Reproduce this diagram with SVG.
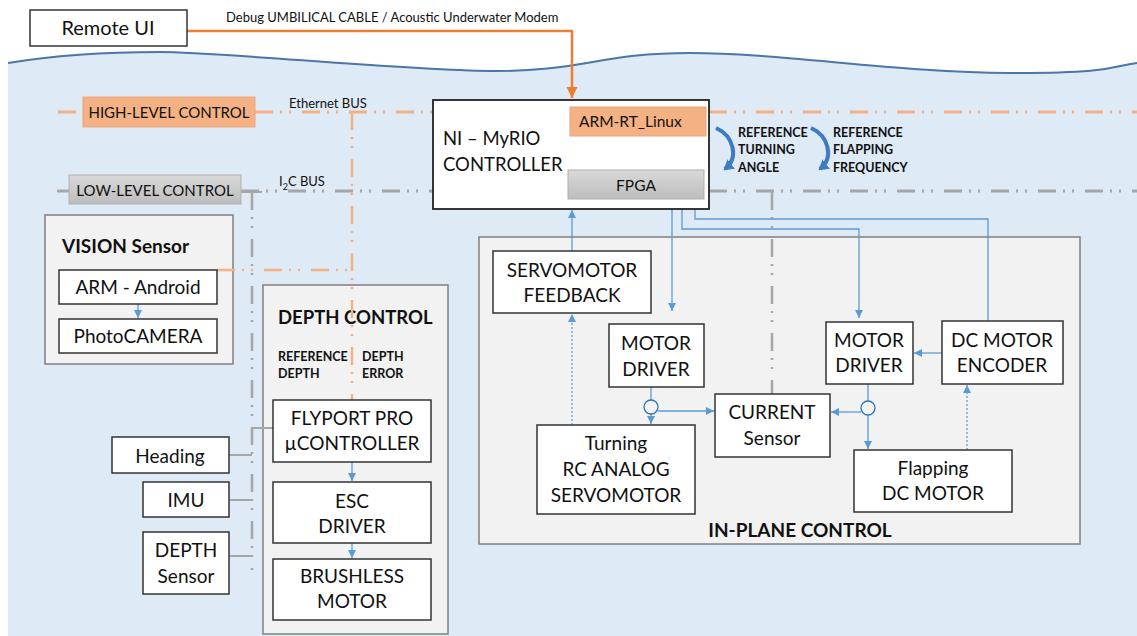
<svg xmlns="http://www.w3.org/2000/svg" width="1137" height="636" viewBox="0 0 1137 636">
<style>
text{font-family:Lato,"Liberation Sans",sans-serif;fill:#111}
.t{font-size:19px;text-anchor:middle}
.b{fill:#fff;stroke:#333;stroke-width:1.5}
.c{fill:#f2f2f2;stroke:#808080;stroke-width:1.5}
.ct{font-size:19px;font-weight:bold}
.sm{font-size:12.5px;font-weight:bold}
.ob{fill:none;stroke:#f4b183;stroke-width:3;stroke-dasharray:18 7 2 7 2 11}
.gb{fill:none;stroke:#a6a6a6;stroke-width:3;stroke-dasharray:18 7 2 7 2 11}
.ov{fill:none;stroke:#f4b183;stroke-width:2.5;stroke-dasharray:18 7 2 7 2 11}
.gv{fill:none;stroke:#a6a6a6;stroke-width:2.5;stroke-dasharray:18 7 2 7 2 11}
.bl{fill:none;stroke:#5b9bd5;stroke-width:1.3}
.bd{fill:none;stroke:#5b9bd5;stroke-width:1.3;stroke-dasharray:2 2}
.gs{fill:none;stroke:#a6a6a6;stroke-width:2}
.cu{fill:none;stroke:#3d7cc0;stroke-width:4}
</style>
<defs>
<marker id="ab" markerUnits="userSpaceOnUse" markerWidth="9" markerHeight="9" refX="8" refY="4" orient="auto"><path d="M0,0 L8,4 L0,8 z" fill="#5b9bd5"/></marker>
<marker id="ao" markerUnits="userSpaceOnUse" markerWidth="12" markerHeight="12" refX="11" refY="5.5" orient="auto"><path d="M0,0 L11,5.5 L0,11 z" fill="#ed7d31"/></marker>
<marker id="ac" markerUnits="userSpaceOnUse" markerWidth="12" markerHeight="12" refX="8" refY="6" orient="auto"><path d="M0,0 L10,6 L0,12 z" fill="#3d7cc0"/></marker>
<linearGradient id="gg" x1="0" y1="0" x2="0" y2="1"><stop offset="0" stop-color="#d9d9d9"/><stop offset="1" stop-color="#bdbdbd"/></linearGradient>
</defs>
<rect width="1137" height="636" fill="#fff"/>
<path d="M8,63 C50,56 100,52 160,52 S400,70 490,71 S600,53 690,53 S900,73 1010,73 S1110,66 1137,63 L1137,636 L8,636 Z" fill="#deeaf6"/>
<path d="M8,63 C50,56 100,52 160,52 S400,70 490,71 S600,53 690,53 S900,73 1010,73 S1110,66 1137,63" fill="none" stroke="#4a76a8" stroke-width="2"/>

<g id="vision">
<rect class="c" x="45" y="215" width="188" height="149"/>
<text class="ct" x="62" y="253">VISION Sensor</text>
</g>
<g id="depth-control">
<rect class="c" x="263" y="285" width="185" height="349"/>
<text class="ct" x="278" y="324" style="font-size:18.5px">DEPTH CONTROL</text>
<text class="sm" x="278" y="361">REFERENCE</text>
<text class="sm" x="278" y="378">DEPTH</text>
<text class="sm" x="362" y="361">DEPTH</text>
<text class="sm" x="362" y="378">ERROR</text>
</g>
<g id="in-plane-control">
<rect class="c" x="479" y="237" width="601" height="307"/>
<text class="ct" x="800" y="537" text-anchor="middle">IN-PLANE CONTROL</text>
</g>

<g id="connectors">
<path d="M187,31 H572 V98" fill="none" stroke="#ed7d31" stroke-width="2.5" marker-end="url(#ao)"/>
<text x="226" y="22" style="font-size:13px">Debug UMBILICAL CABLE / Acoustic Underwater Modem</text>
<path class="ob" d="M58,112 H83"/>
<path class="ob" d="M255,112 H433"/>
<path class="ob" d="M709,112 H1137"/>
<text x="289" y="108" style="font-size:13px">Ethernet BUS</text>
<path class="gb" d="M57,191 H69"/>
<path class="gb" d="M241,191 H433"/>
<path class="gb" d="M709,191 H1137"/>
<text x="279" y="186" style="font-size:13px">I<tspan style="font-size:9px" dy="4">2</tspan><tspan dy="-4">C BUS</tspan></text>
<path class="ov" d="M352,112 V400"/>
<path class="ov" d="M217,270 H352"/>
<path class="gv" d="M252,192 V570"/>
<path class="gs" d="M241,192 H262"/>
<path class="gs" d="M252,428 H273"/>
<path class="gs" d="M229,455 H252"/>
<path class="gs" d="M229,500 H252"/>
<path class="gs" d="M229,556 H252"/>
<path class="gv" d="M772,192 V394"/>
<path class="bl" d="M138,304 V318" marker-end="url(#ab)"/>
<path class="bl" d="M352,462 V481" marker-end="url(#ab)"/>
<path class="bl" d="M352,543 V558" marker-end="url(#ab)"/>
<path class="bl" d="M572,251 V210" marker-end="url(#ab)"/>
<path class="bd" d="M572,425 V314" marker-end="url(#ab)"/>
<path class="bl" d="M672,199 V311" marker-end="url(#ab)"/>
<path class="bl" d="M682,199 V229 H859 V318" marker-end="url(#ab)"/>
<path class="bl" d="M988,321 V219 H695 V200" marker-end="url(#ab)"/>
<path class="bl" d="M651,387 V400 M651,414 V424" marker-end="url(#ab)"/>
<circle cx="651" cy="407" r="7" fill="none" stroke="#2e75b6" stroke-width="1.3"/>
<path class="bl" d="M658,411 H714" marker-end="url(#ab)"/>
<path class="bl" d="M868,384 V401 M868,415 V449" marker-end="url(#ab)"/>
<circle cx="868" cy="408" r="7" fill="none" stroke="#2e75b6" stroke-width="1.3"/>
<path class="bl" d="M861,412 H831" marker-end="url(#ab)"/>
<path class="bl" d="M942,353 H914" marker-end="url(#ab)"/>
<path class="bd" d="M967,450 V385" marker-end="url(#ab)"/>
<path class="cu" d="M716,128 C734,136 739,158 725,169" marker-end="url(#ac)"/>
<path class="cu" d="M811,128 C829,136 834,158 820,169" marker-end="url(#ac)"/>
<text class="sm" x="738" y="137">REFERENCE</text>
<text class="sm" x="738" y="154">TURNING</text>
<text class="sm" x="738" y="172">ANGLE</text>
<text class="sm" x="833" y="137">REFERENCE</text>
<text class="sm" x="833" y="154">FLAPPING</text>
<text class="sm" x="833" y="172">FREQUENCY</text>
</g>

<g id="remote-ui"><rect class="b" x="30" y="10" width="157" height="36"/><text class="t" x="108" y="35" style="font-size:20px">Remote UI</text></g>
<g id="ni-myrio"><rect x="433" y="100" width="276" height="109" fill="#fff" stroke="#222" stroke-width="1.8"/><text x="443" y="145" style="font-size:18.5px">NI – MyRIO</text><text x="443" y="171" style="font-size:18.5px">CONTROLLER</text></g>
<g id="arm-rt-linux"><rect x="570" y="107" width="136" height="29" fill="#f4b183" stroke="#eea47c" stroke-width="1"/><text x="579" y="127" style="font-size:15.5px">ARM-RT_Linux</text></g>
<g id="fpga"><rect x="568" y="170" width="136" height="29" fill="url(#gg)" stroke="#b0b0b0" stroke-width="1"/><text class="t" x="636" y="191" style="font-size:15.5px">FPGA</text></g>
<g id="high-level"><rect x="83" y="97" width="172" height="30" fill="#f4b183" stroke="#eea47c" stroke-width="1"/><text class="t" x="169" y="118" style="font-size:15px">HIGH-LEVEL CONTROL</text></g>
<g id="low-level"><rect x="69" y="175" width="172" height="29" fill="url(#gg)" stroke="#b0b0b0" stroke-width="1"/><text class="t" x="155" y="196" style="font-size:15px">LOW-LEVEL CONTROL</text></g>
<g id="arm-android"><rect class="b" x="59" y="270" width="158" height="34"/><text class="t" x="138" y="294">ARM - Android</text></g>
<g id="photocamera"><rect class="b" x="59" y="319" width="158" height="34"/><text class="t" x="138" y="343">PhotoCAMERA</text></g>
<g id="flyport"><rect class="b" x="273" y="400" width="158" height="62"/><text class="t" x="352" y="425">FLYPORT PRO</text><text class="t" x="352" y="450">µCONTROLLER</text></g>
<g id="esc"><rect class="b" x="273" y="482" width="158" height="61"/><text class="t" x="352" y="508">ESC</text><text class="t" x="352" y="533">DRIVER</text></g>
<g id="brushless"><rect class="b" x="273" y="559" width="158" height="61"/><text class="t" x="352" y="583">BRUSHLESS</text><text class="t" x="352" y="608">MOTOR</text></g>
<g id="heading"><rect class="b" x="112" y="437" width="117" height="36"/><text class="t" x="170" y="463">Heading</text></g>
<g id="imu"><rect class="b" x="143" y="482" width="86" height="35"/><text class="t" x="186" y="507">IMU</text></g>
<g id="depth-sensor"><rect class="b" x="143" y="532" width="86" height="62"/><text class="t" x="186" y="557">DEPTH</text><text class="t" x="186" y="583">Sensor</text></g>
<g id="servo-feedback"><rect class="b" x="493" y="251" width="158" height="62"/><text class="t" x="572" y="277">SERVOMOTOR</text><text class="t" x="572" y="302">FEEDBACK</text></g>
<g id="motor-driver-1"><rect class="b" x="609" y="324" width="95" height="63"/><text class="t" x="656" y="350">MOTOR</text><text class="t" x="656" y="376">DRIVER</text></g>
<g id="servomotor"><rect class="b" x="537" y="425" width="158" height="89"/><text class="t" x="616" y="450">Turning</text><text class="t" x="616" y="476">RC ANALOG</text><text class="t" x="616" y="502">SERVOMOTOR</text></g>
<g id="current-sensor"><rect class="b" x="715" y="394" width="115" height="63"/><text class="t" x="772" y="419">CURRENT</text><text class="t" x="772" y="445">Sensor</text></g>
<g id="motor-driver-2"><rect class="b" x="826" y="322" width="87" height="62"/><text class="t" x="869" y="347">MOTOR</text><text class="t" x="869" y="372">DRIVER</text></g>
<g id="dc-encoder"><rect class="b" x="942" y="321" width="121" height="63"/><text class="t" x="1002" y="347">DC MOTOR</text><text class="t" x="1002" y="372">ENCODER</text></g>
<g id="flapping"><rect class="b" x="854" y="450" width="158" height="62"/><text class="t" x="933" y="475">Flapping</text><text class="t" x="933" y="500">DC MOTOR</text></g>
</svg>
